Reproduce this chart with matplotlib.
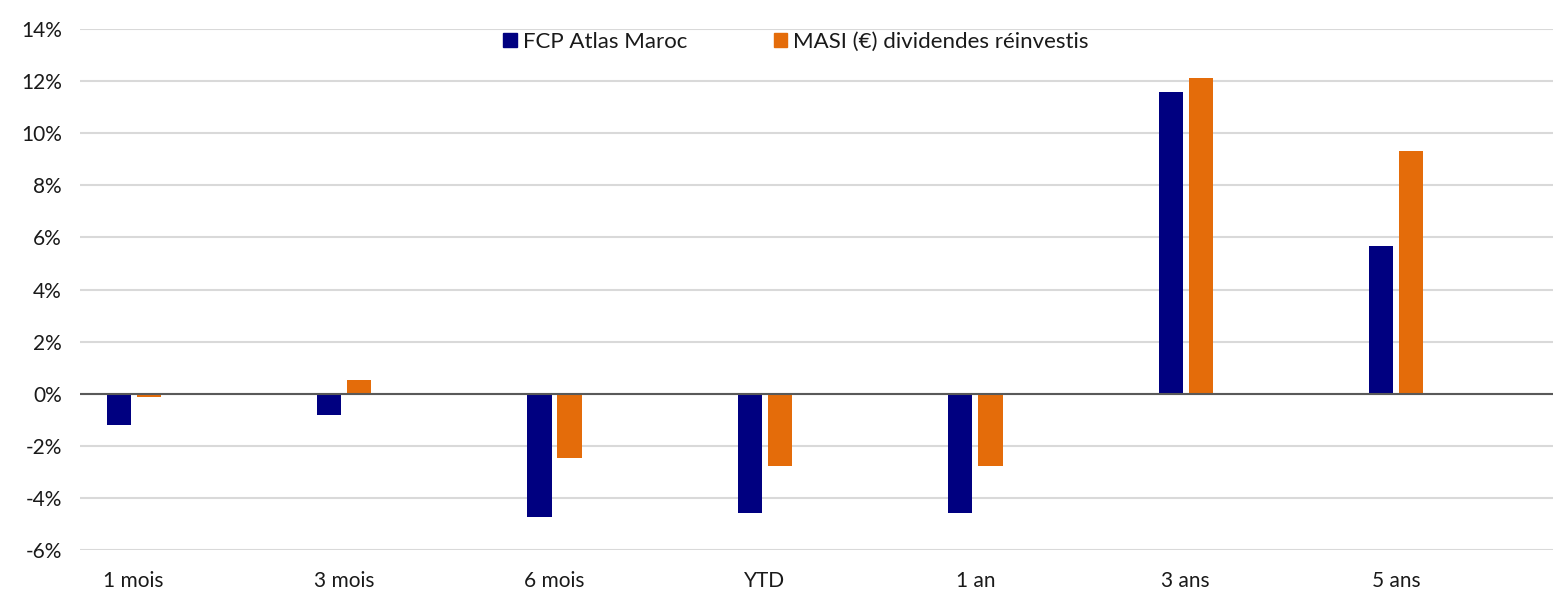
import matplotlib
matplotlib.use("Agg")
import matplotlib.pyplot as plt
import numpy as np
from matplotlib.patches import Patch
from matplotlib.ticker import FuncFormatter

categories = ["1 mois", "3 mois", "6 mois", "YTD", "1 an", "3 ans", "5 ans"]
fcp = [-1.2, -0.83, -4.72, -4.57, -4.57, 11.6, 5.68]
masi = [-0.12, 0.52, -2.46, -2.76, -2.76, 12.12, 9.3]
series_names = ["FCP Atlas Maroc", "MASI (€) dividendes réinvestis"]
yticks = list(range(-6, 15, 2))

plt.rcParams['font.family'] = ['Lato', 'DejaVu Sans']

fig = plt.figure(figsize=(15.66, 5.93), dpi=100)
ax = fig.add_axes([80/1566, 1-550/593, 1473/1566, (550-29)/593])

x = np.arange(len(categories))
w = 0.115
off = 0.0715
c1 = "#000080"
c2 = "#E46C0A"
ax.bar(x - off, fcp, width=w, color=c1, zorder=3)
ax.bar(x + off, masi, width=w, color=c2, zorder=3)

ax.set_xlim(-0.255, 6.745)
ax.set_ylim(-6, 14)
ax.set_yticks(yticks)
ax.yaxis.set_major_formatter(FuncFormatter(lambda v, p: f"{int(v)}%"))
ax.grid(axis='y', color='#d9d9d9', linewidth=1.5, zorder=0)
ax.axhline(0, color='#595959', linewidth=1.5, zorder=4)
ax.set_xticks(x)
ax.set_xticklabels(categories)
for s in ax.spines.values():
    s.set_visible(False)
ax.tick_params(axis='both', length=0, labelsize=15, colors='#1a1a1a')
ax.tick_params(axis='x', pad=15)
ax.tick_params(axis='y', pad=13)

handles = [Patch(color=c1), Patch(color=c2)]
leg = ax.legend(handles, series_names, loc='center', bbox_to_anchor=(0.486, 0.975),
                ncol=2, frameon=False, fontsize=16, handlelength=0.62, handleheight=0.62,
                handletextpad=0.27, columnspacing=3.9)
for t in leg.get_texts():
    t.set_color('#1a1a1a')

fig.savefig("out.png", dpi=100)
